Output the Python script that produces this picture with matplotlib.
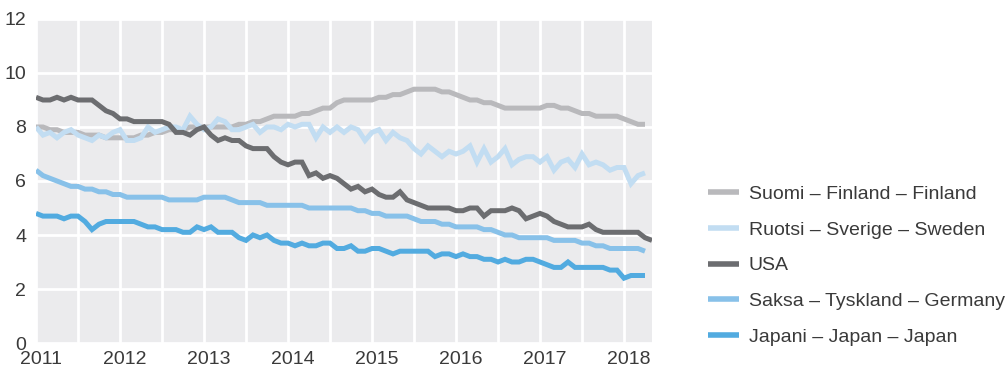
import numpy as np
import matplotlib
matplotlib.use("Agg")
import matplotlib.pyplot as plt
from matplotlib.transforms import ScaledTranslation

plt.rcParams['font.family'] = ['Liberation Sans', 'DejaVu Sans']

# monthly unemployment rate (%), starting January 2011
finland = [8.0, 8.0, 7.9, 7.9, 7.8, 7.8, 7.8, 7.7, 7.7, 7.7, 7.6, 7.6,
           7.6, 7.6, 7.6, 7.7, 7.7, 7.8, 7.8, 7.9, 7.9, 7.9, 8.0, 8.0,
           8.0, 8.0, 8.0, 8.0, 8.0, 8.1, 8.1, 8.2, 8.2, 8.3, 8.4, 8.4,
           8.4, 8.4, 8.5, 8.5, 8.6, 8.7, 8.7, 8.9, 9.0, 9.0, 9.0, 9.0,
           9.0, 9.1, 9.1, 9.2, 9.2, 9.3, 9.4, 9.4, 9.4, 9.4, 9.3, 9.3,
           9.2, 9.1, 9.0, 9.0, 8.9, 8.9, 8.8, 8.7, 8.7, 8.7, 8.7, 8.7,
           8.7, 8.8, 8.8, 8.7, 8.7, 8.6, 8.5, 8.5, 8.4, 8.4, 8.4, 8.4,
           8.3, 8.2, 8.1, 8.1]
sweden = [8.0, 7.7, 7.8, 7.6, 7.8, 7.9, 7.7, 7.6, 7.5, 7.7, 7.6, 7.8,
          7.9, 7.5, 7.5, 7.6, 8.0, 7.8, 7.9, 8.0, 8.0, 7.9, 8.4, 8.1,
          7.9, 8.0, 8.3, 8.2, 7.9, 7.9, 8.0, 8.1, 7.8, 8.0, 8.0, 7.9,
          8.1, 8.0, 8.1, 8.1, 7.6, 8.0, 7.8, 8.0, 7.8, 8.0, 7.9, 7.5,
          7.8, 7.9, 7.5, 7.8, 7.6, 7.5, 7.2, 7.0, 7.3, 7.1, 6.9, 7.1,
          7.0, 7.1, 7.3, 6.7, 7.2, 6.7, 6.9, 7.2, 6.6, 6.8, 6.9, 6.9,
          6.7, 6.9, 6.4, 6.7, 6.8, 6.5, 7.0, 6.6, 6.7, 6.6, 6.4, 6.5,
          6.5, 5.9, 6.2, 6.3]
usa = [9.1, 9.0, 9.0, 9.1, 9.0, 9.1, 9.0, 9.0, 9.0, 8.8, 8.6, 8.5,
       8.3, 8.3, 8.2, 8.2, 8.2, 8.2, 8.2, 8.1, 7.8, 7.8, 7.7, 7.9,
       8.0, 7.7, 7.5, 7.6, 7.5, 7.5, 7.3, 7.2, 7.2, 7.2, 6.9, 6.7,
       6.6, 6.7, 6.7, 6.2, 6.3, 6.1, 6.2, 6.1, 5.9, 5.7, 5.8, 5.6,
       5.7, 5.5, 5.4, 5.4, 5.6, 5.3, 5.2, 5.1, 5.0, 5.0, 5.0, 5.0,
       4.9, 4.9, 5.0, 5.0, 4.7, 4.9, 4.9, 4.9, 5.0, 4.9, 4.6, 4.7,
       4.8, 4.7, 4.5, 4.4, 4.3, 4.3, 4.3, 4.4, 4.2, 4.1, 4.1, 4.1,
       4.1, 4.1, 4.1, 3.9, 3.8]
germany = [6.4, 6.2, 6.1, 6.0, 5.9, 5.8, 5.8, 5.7, 5.7, 5.6, 5.6, 5.5,
           5.5, 5.4, 5.4, 5.4, 5.4, 5.4, 5.4, 5.3, 5.3, 5.3, 5.3, 5.3,
           5.4, 5.4, 5.4, 5.4, 5.3, 5.2, 5.2, 5.2, 5.2, 5.1, 5.1, 5.1,
           5.1, 5.1, 5.1, 5.0, 5.0, 5.0, 5.0, 5.0, 5.0, 5.0, 4.9, 4.9,
           4.8, 4.8, 4.7, 4.7, 4.7, 4.7, 4.6, 4.5, 4.5, 4.5, 4.4, 4.4,
           4.3, 4.3, 4.3, 4.3, 4.2, 4.2, 4.1, 4.0, 4.0, 3.9, 3.9, 3.9,
           3.9, 3.9, 3.8, 3.8, 3.8, 3.8, 3.7, 3.7, 3.6, 3.6, 3.5, 3.5,
           3.5, 3.5, 3.5, 3.4]
japan = [4.8, 4.7, 4.7, 4.7, 4.6, 4.7, 4.7, 4.5, 4.2, 4.4, 4.5, 4.5,
         4.5, 4.5, 4.5, 4.4, 4.3, 4.3, 4.2, 4.2, 4.2, 4.1, 4.1, 4.3,
         4.2, 4.3, 4.1, 4.1, 4.1, 3.9, 3.8, 4.0, 3.9, 4.0, 3.8, 3.7,
         3.7, 3.6, 3.7, 3.6, 3.6, 3.7, 3.7, 3.5, 3.5, 3.6, 3.4, 3.4,
         3.5, 3.5, 3.4, 3.3, 3.4, 3.4, 3.4, 3.4, 3.4, 3.2, 3.3, 3.3,
         3.2, 3.3, 3.2, 3.2, 3.1, 3.1, 3.0, 3.1, 3.0, 3.0, 3.1, 3.1,
         3.0, 2.9, 2.8, 2.8, 3.0, 2.8, 2.8, 2.8, 2.8, 2.8, 2.7, 2.7,
         2.4, 2.5, 2.5, 2.5]

labels = ['Suomi – Finland – Finland', 'Ruotsi – Sverige – Sweden', 'USA',
          'Saksa – Tyskland – Germany', 'Japani – Japan – Japan']
colors = ['#b9b9bc', '#c2ddf2', '#6c6d70', '#88c1e9', '#52abe0']
series = [finland, sweden, usa, germany, japan]

years = list(range(2011, 2019))

fig = plt.figure(figsize=(10.08, 3.70), dpi=100)
ax = fig.add_axes([36 / 1008, 27 / 370, 616 / 1008, 324 / 370])
ax.set_facecolor('#ebebed')

for vals, lab, col in zip(series, labels, colors):
    x = 2011 + np.arange(len(vals)) / 12
    ax.plot(x, vals, color=col, lw=3.6, label=lab, solid_joinstyle='miter',
            solid_capstyle='butt')

ax.set_xlim(2011, 2011 + 88 / 12)
ax.set_ylim(0, 12)
ax.set_yticks(range(0, 13, 2))
ax.set_xticks(years)
ax.set_xticks([y + 0.5 for y in years[:-1]], minor=True)
ax.grid(True, which='both', axis='x', color='white', lw=2)
ax.grid(True, which='major', axis='y', color='white', lw=2)
ax.set_axisbelow(True)
for s in ax.spines.values():
    s.set_visible(False)

ax.tick_params(axis='both', which='both', length=0, labelsize=14,
               labelcolor='#3a3a3a')
ax.tick_params(axis='x', pad=6)
ax.tick_params(axis='y', pad=7)
shift = ScaledTranslation(5 / 100, 0, fig.dpi_scale_trans)
for t in ax.get_xticklabels():
    t.set_transform(t.get_transform() + shift)

leg = fig.legend(loc='center left', bbox_to_anchor=(708 / 1008, 0.282),
                 frameon=False, fontsize=14, handlelength=1.6,
                 handletextpad=0.5, labelspacing=0.93, borderpad=0,
                 borderaxespad=0)
for t in leg.get_texts():
    t.set_color('#3a3a3a')
for h in leg.get_lines():
    h.set_linewidth(4)

fig.savefig('out.png', dpi=100)
